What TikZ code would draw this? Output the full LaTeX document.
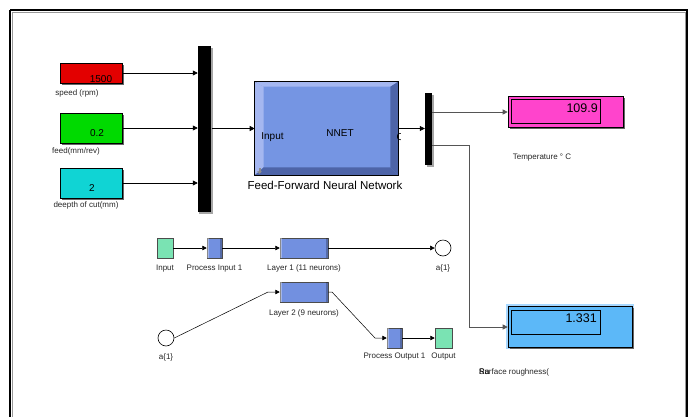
\documentclass[tikz,border=0pt]{standalone}
\usepackage{fontspec}
\setmainfont{Liberation Sans}
\usetikzlibrary{arrows.meta,shadows,calc}

\definecolor{srcred}{HTML}{E30000}
\definecolor{srcgreen}{HTML}{00DA00}
\definecolor{srccyan}{HTML}{10D4D4}
\definecolor{dispink}{HTML}{FF44CC}
\definecolor{disblue}{HTML}{5CB8F8}
\definecolor{dishalo}{HTML}{A8D8FF}
\definecolor{nnface}{HTML}{7595E3}
\definecolor{nnlight}{HTML}{A5B7F0}
\definecolor{nndark}{HTML}{4D64A8}
\definecolor{blkblue}{HTML}{7290E0}
\definecolor{blkmint}{HTML}{7AE3B3}
\definecolor{wire}{HTML}{555555}

\tikzset{
  fs/.style={font=\fontsize{#1}{#1}\selectfont},
  lbl/.style={fs=8, text=black!85, inner sep=0pt},
  shade box/.style={drop shadow={shadow xshift=1.6pt,shadow yshift=-1.6pt,fill=black!60,opacity=1}},
  srcbox/.style={draw=black, line width=0.6pt, minimum width=62pt, inner sep=0pt, shade box},
  barbox/.style={fill=black, draw=none, inner sep=0pt,
    drop shadow={shadow xshift=1.5pt,shadow yshift=-1.5pt,fill=black!35,opacity=1}},
  dispbox/.style={draw=black, line width=0.6pt, inner sep=0pt, shade box},
  numbox/.style={draw=black, line width=0.6pt, inner sep=0pt, minimum width=89pt, minimum height=24pt},
  netblk/.style={draw=black!70, line width=0.5pt, inner sep=0pt, minimum height=20pt,
    drop shadow={shadow xshift=1pt,shadow yshift=-1pt,fill=black!70,opacity=1}},
  arr/.style={-{Triangle[length=5pt,width=5pt]}, line width=0.6pt, black},
  warr/.style={-{Triangle[length=5pt,width=5pt]}, line width=0.6pt, wire},
  thin arr/.style={-{Triangle[length=4.5pt,width=4.5pt]}, line width=0.5pt, black},
}

\begin{document}
\begin{tikzpicture}[x=1pt,y=-1pt]
\useasboundingbox (0,0) rectangle (691,416);

% window frame
\draw[black, line width=1.8pt] (10,10) -- (687,10) -- (687,418) (10,418) -- (10,10);
\draw[black!40, line width=0.7pt] (12,12.2) -- (685,12.2) -- (685,418) (12,418) -- (12,12.2);

% ---- source blocks ----
\node[srcbox, fill=srcred, minimum height=20pt] (speed) at (91,73) {};
\node[srcbox, fill=srcgreen, minimum height=30pt] (feed) at (91,128) {};
\node[srcbox, fill=srccyan, minimum height=30pt] (depth) at (91,183) {};
\node[fs=10, inner sep=0pt] (speedv) at (101,79) {1500};
\node[fs=10, inner sep=0pt] (feedv) at (97,133) {0.2};
\node[fs=10, inner sep=0pt] (depthv) at (92,188) {2};
\node[lbl] (speedl) at (77,93) {speed (rpm)};
\node[lbl] (feedl) at (76,151) {feed(mm/rev)};
\node[lbl] (depthl) at (86,205) {deepth of cut(mm)};

% ---- mux bar ----
\node[barbox, minimum width=13.5pt, minimum height=166pt] (mux) at (204.7,129) {};
\draw[arr] (speed.east) -- (speed.east -| mux.west);
\draw[arr] (feed.east) -- (feed.east -| mux.west);
\draw[arr] (depth.east) -- (depth.east -| mux.west);

% ---- neural network block ----
\node[draw=black, line width=0.6pt, fill=nnface, minimum width=143pt, minimum height=93pt, inner sep=0pt] (nnet) at (326.5,128.5) {};
\fill[nnlight] (nnet.north west) -- (nnet.north east) -- ($(nnet.north east)+(-8,5)$) -- ($(nnet.north west)+(9,5)$) -- cycle;
\fill[nnlight] (nnet.north west) -- ($(nnet.north west)+(9,5)$) -- ($(nnet.south west)+(9,-8)$) -- (nnet.south west) -- cycle;
\fill[nndark] (nnet.north east) -- (nnet.south east) -- ($(nnet.south east)+(-8,-8)$) -- ($(nnet.north east)+(-8,5)$) -- cycle;
\fill[nndark] (nnet.south west) -- ($(nnet.south west)+(9,-8)$) -- ($(nnet.south east)+(-8,-8)$) -- (nnet.south east) -- cycle;
\draw[black, line width=0.6pt] (nnet.north west) rectangle (nnet.south east);
% small port marker in the lower left corner
\fill[black!45] (258.5,168) rectangle (260.5,171.5);
\fill[black!45] (257,171.3) -- (262,171.3) -- (259.5,174) -- cycle;
\node[fs=10, inner sep=0pt] (nnin) at (272.5,137) {Input};
\node[fs=10, inner sep=0pt] (nnname) at (340,133) {NNET};
\begin{scope}
  \clip (nnet.north west) rectangle (400,175);
  \node[fs=10, inner sep=0pt, anchor=west] (nnout) at (396.5,137) {O};
\end{scope}
\node[fs=11.5, inner sep=0pt] (nncap) at (325,185) {Feed-Forward Neural Network};
\draw[arr] (mux.east |- nnet.west) -- (nnet.west);

% ---- demux bar ----
\node[barbox, minimum width=7pt, minimum height=72pt] (demux) at (428.5,129) {};
\draw[arr] (nnet.east) -- (demux.west |- nnet.east);

% ---- displays ----
\node[dispbox, fill=dispink, minimum width=115pt, minimum height=31pt] (temp) at (565.5,111.5) {};
\node[numbox] (tempn) at (555.5,111) {};
\node[fs=12.5, inner sep=0pt, anchor=east] (tempv) at (598,108) {109.9};
\node[lbl] (templ) at (542,157.5) {Temperature ° C};

\node[draw=dishalo, line width=1.6pt, minimum width=126pt, minimum height=43pt, inner sep=0pt] (rhalo) at (570,326.5) {};
\node[dispbox, fill=disblue, minimum width=124pt, minimum height=41pt] (rough) at (570,326.5) {};
\node[numbox] (roughn) at (555.5,322) {};
\node[fs=12.5, inner sep=0pt, anchor=east] (roughv) at (597,318.5) {1.331};
\node[lbl, anchor=west] (roughl) at (479,372) {Surface roughness(};
\node[lbl, anchor=west, text=black] (roughx) at (479,372) {Ra};

\coordinate (tapA) at (432,112);
\coordinate (tapB) at (432,145);
\draw[warr] (tapA) -- (temp.west |- tapA);
\draw[warr] (tapB) -- (469,145) -- (469,327) -- (rough.west |- 469,327);

% ---- network diagram ----
\node[netblk, fill=blkmint, minimum width=16pt] (inp) at (165,248) {};
\node[netblk, fill=blkblue, minimum width=15pt] (pin) at (214.5,248) {};
\node[netblk, fill=blkblue, minimum width=48pt] (lay1) at (304,248) {};
\node[draw=black, line width=0.6pt, fill=white, circle, minimum size=16pt, inner sep=0pt] (a1) at (443,248) {};
\node[netblk, fill=blkblue, minimum width=48pt] (lay2) at (304,292) {};
\node[draw=black, line width=0.6pt, fill=white, circle, minimum size=16pt, inner sep=0pt] (a1b) at (166,338) {};
\node[netblk, fill=blkblue, minimum width=15pt] (pout) at (394.5,338) {};
\node[netblk, fill=blkmint, minimum width=17pt] (outp) at (443.5,338) {};

% light bevel on the layer blocks
\foreach \b in {pin,lay1,lay2,pout} {
  \fill[white, opacity=0.35] ($(\b.north west)+(0.5,0.5)$) rectangle ($(\b.south west)+(2.5,-0.5)$);
  \fill[black, opacity=0.25] ($(\b.north east)+(-2.5,0.5)$) rectangle ($(\b.south east)+(-0.5,-0.5)$);
}

\node[lbl] (inpl) at (165,268.5) {Input};
\node[lbl] (pinl) at (214.5,268.5) {Process Input 1};
\node[lbl] (lay1l) at (304,268.5) {Layer 1 (11 neurons)};
\node[lbl] (a1l) at (443,268.5) {a\{1\}};
\node[lbl] (lay2l) at (304,313) {Layer 2 (9 neurons)};
\node[lbl] (a1bl) at (166,357) {a\{1\}};
\node[lbl] (poutl) at (394.5,357) {Process Output 1};
\node[lbl] (outpl) at (443.5,357) {Output};

\draw[thin arr] (inp.east) -- (pin.west);
\draw[thin arr] (pin.east) -- (lay1.west);
\draw[thin arr] (lay1.east) -- (a1.west);
\draw[thin arr] (a1b.east) -- (268,292) -- (lay2.west);
\draw[thin arr] (lay2.east) -- (332,292) -- (375,338) -- (pout.west);
\draw[thin arr] (pout.east) -- (outp.west);
\end{tikzpicture}
\end{document}
